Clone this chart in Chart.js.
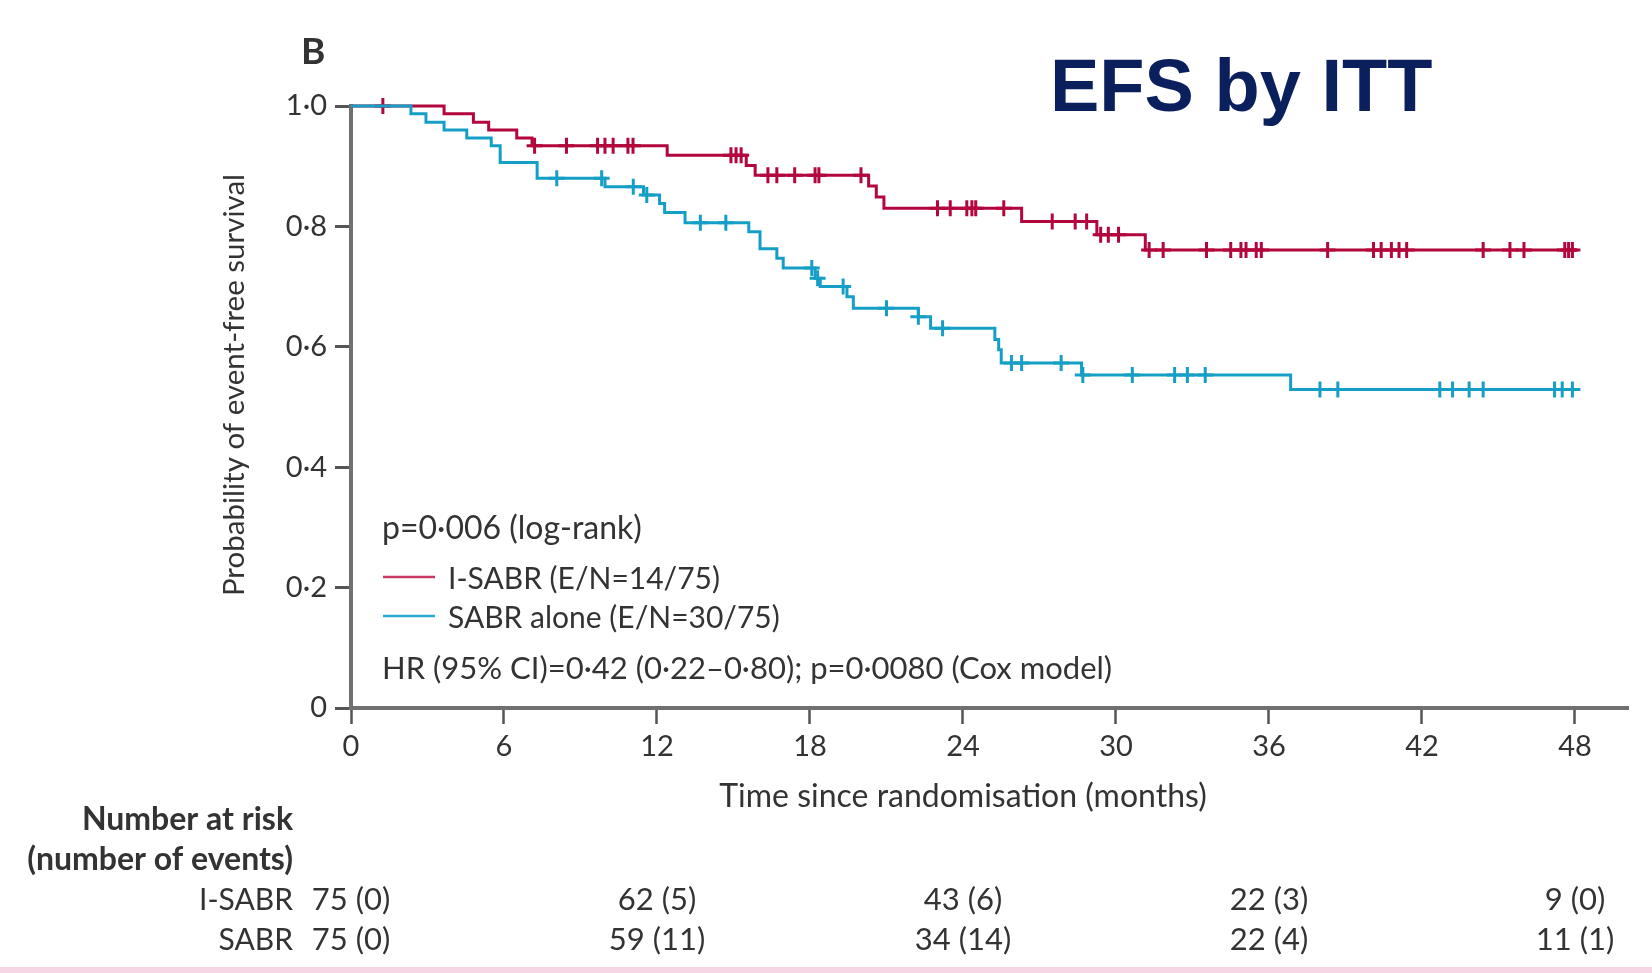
<!DOCTYPE html>
<html>
<head>
<meta charset="utf-8">
<script src="https://cdn.jsdelivr.net/npm/chart.js@4/dist/chart.umd.min.js"></script>
<style>
  html, body { margin: 0; padding: 0; background: #ffffff; }
  canvas { display: block; }
</style>
</head>
<body>
<canvas id="km" width="1652" height="973"></canvas>
<script>
// Kaplan-Meier event-free survival, I-SABR vs SABR alone (months)
const isabrTimes = [0, 3.65, 4.8, 5.4, 6.5, 7.1, 12.4, 15.5, 15.85, 20.3, 20.6, 20.9, 26.3, 29.25, 31.15];
const isabrSurv  = [1.0, 0.987, 0.973, 0.960, 0.947, 0.934, 0.918, 0.901, 0.885, 0.867, 0.849, 0.830, 0.808, 0.786, 0.761];
const isabrCensor = [1.25, 7.2, 8.45, 9.67, 9.96, 10.28, 10.86, 11.06, 14.9, 15.1, 15.3, 16.35, 16.7, 17.4,
  18.2, 18.35, 20.0, 23.0, 23.5, 24.15, 24.35, 24.5, 25.6, 27.5, 28.4, 28.85, 29.4, 29.7, 30.1, 31.3, 31.85,
  33.55, 34.5, 34.9, 35.1, 35.5, 35.7, 38.3, 40.1, 40.4, 40.8, 41.1, 41.4, 44.4, 45.45, 46.0, 47.6, 47.75, 47.9];

const sabrTimes = [0, 2.35, 2.94, 3.65, 4.54, 5.5, 5.85, 7.3, 9.96, 11.47, 12.1, 12.3, 13.1, 15.6, 16.04, 16.7,
  16.95, 18.2, 18.4, 19.45, 19.7, 22.25, 22.73, 25.25, 25.4, 25.5, 28.65, 36.85];
const sabrSurv  = [1.0, 0.987, 0.973, 0.960, 0.947, 0.934, 0.906, 0.880, 0.866, 0.852, 0.838, 0.823, 0.806, 0.791,
  0.763, 0.747, 0.731, 0.714, 0.700, 0.683, 0.664, 0.650, 0.631, 0.612, 0.595, 0.573, 0.553, 0.529];
const sabrCensor = [8.07, 9.83, 11.07, 11.6, 13.7, 14.7, 18.07, 18.3, 19.3, 21.0, 22.25, 23.2, 25.9, 26.3, 27.85,
  28.7, 30.64, 32.3, 32.8, 33.5, 38.0, 38.7, 42.7, 43.2, 43.85, 44.4, 47.2, 47.5, 47.9];

const followUpEnd = 48.1;

const xTicks = [0, 6, 12, 18, 24, 30, 36, 42, 48];
const yTicks = [0, 0.2, 0.4, 0.6, 0.8, 1.0];
const yTickLabels = ['0', '0·2', '0·4', '0·6', '0·8', '1·0'];

const riskTimes = [0, 12, 24, 36, 48];
const riskIsabr = ['75 (0)', '62 (5)', '43 (6)', '22 (3)', '9 (0)'];
const riskSabr  = ['75 (0)', '59 (11)', '34 (14)', '22 (4)', '11 (1)'];

const RED = '#b3063d';
const CYAN = '#169fc6';
const AXIS = '#707070';
const TEXT = '#333333';
const FONT = 'Lato, "Open Sans", sans-serif';

function stepPoints(times, surv, end) {
  const pts = times.map((t, i) => ({ x: t, y: surv[i] }));
  pts.push({ x: end, y: surv[surv.length - 1] });
  return pts;
}
function survivalAt(times, surv, t) {
  let s = surv[0];
  for (let i = 0; i < times.length; i++) if (times[i] <= t) s = surv[i];
  return s;
}
function censorPoints(censor, times, surv) {
  return censor.map(t => ({ x: t, y: survivalAt(times, surv, t) }));
}

const annotations = {
  id: 'annotations',
  afterDraw(chart) {
    const ctx = chart.ctx;
    const xs = chart.scales.x;
    ctx.save();

    // panel letter
    ctx.fillStyle = TEXT;
    ctx.textAlign = 'left';
    ctx.textBaseline = 'middle';
    ctx.font = 'bold 37px ' + FONT;
    ctx.fillText('B', 301, 52);

    // headline
    ctx.fillStyle = '#0b1f5c';
    ctx.textBaseline = 'alphabetic';
    ctx.font = 'bold 74px "Liberation Sans", Arial, sans-serif';
    ctx.fillText('EFS by ITT', 1050, 111);

    // axis titles
    ctx.fillStyle = TEXT;
    ctx.textBaseline = 'middle';
    ctx.textAlign = 'center';
    ctx.font = '32px ' + FONT;
    ctx.fillText('Time since randomisation (months)', 963, 797);
    ctx.save();
    ctx.translate(234, 385);
    ctx.rotate(-Math.PI / 2);
    ctx.font = '29.5px ' + FONT;
    ctx.fillText('Probability of event-free survival', 0, 0);
    ctx.restore();

    // legend block
    ctx.textAlign = 'left';
    ctx.font = '32px ' + FONT;
    ctx.fillText('p=0·006 (log-rank)', 382, 529);
    ctx.font = '30px ' + FONT;
    ctx.fillText('I-SABR (E/N=14/75)', 448, 579);
    ctx.fillText('SABR alone (E/N=30/75)', 448, 618);
    ctx.font = '31px ' + FONT;
    ctx.fillText('HR (95% CI)=0·42 (0·22–0·80); p=0·0080 (Cox model)', 382, 669);
    ctx.lineWidth = 2.5;
    ctx.strokeStyle = '#c73a66';
    ctx.beginPath(); ctx.moveTo(383, 577); ctx.lineTo(435, 577); ctx.stroke();
    ctx.strokeStyle = '#2aaad0';
    ctx.beginPath(); ctx.moveTo(383, 616); ctx.lineTo(435, 616); ctx.stroke();

    // number at risk table
    ctx.textAlign = 'right';
    ctx.font = 'bold 32px ' + FONT;
    ctx.fillText('Number at risk', 293, 820);
    ctx.fillText('(number of events)', 293, 860);
    ctx.font = '30px ' + FONT;
    ctx.fillText('I-SABR', 293, 900);
    ctx.fillText('SABR', 293, 940);
    ctx.textAlign = 'center';
    ctx.font = '31px ' + FONT;
    riskTimes.forEach((t, i) => {
      const px = xs.getPixelForValue(t);
      ctx.fillText(riskIsabr[i], px, 900);
      ctx.fillText(riskSabr[i], px, 940);
    });

    // bottom rule
    ctx.fillStyle = '#f6d6e4';
    ctx.fillRect(0, 967, 1652, 6);
    ctx.restore();
  }
};

new Chart(document.getElementById('km'), {
  type: 'line',
  data: {
    datasets: [
      {
        label: 'SABR alone',
        data: stepPoints(sabrTimes, sabrSurv, followUpEnd),
        stepped: 'before',
        borderColor: CYAN,
        borderWidth: 3,
        pointRadius: 0,
        fill: false,
        clip: false,
        order: 1
      },
      {
        label: 'SABR alone censored',
        type: 'scatter',
        data: censorPoints(sabrCensor, sabrTimes, sabrSurv),
        showLine: false,
        pointStyle: 'cross',
        pointRadius: 8,
        pointBorderWidth: 3,
        borderColor: CYAN,
        backgroundColor: CYAN,
        clip: false,
        order: 1
      },
      {
        label: 'I-SABR',
        data: stepPoints(isabrTimes, isabrSurv, followUpEnd),
        stepped: 'before',
        borderColor: RED,
        borderWidth: 3,
        pointRadius: 0,
        fill: false,
        clip: false,
        order: 2
      },
      {
        label: 'I-SABR censored',
        type: 'scatter',
        data: censorPoints(isabrCensor, isabrTimes, isabrSurv),
        showLine: false,
        pointStyle: 'cross',
        pointRadius: 8,
        pointBorderWidth: 3,
        borderColor: RED,
        backgroundColor: RED,
        clip: false,
        order: 2
      }
    ]
  },
  options: {
    responsive: false,
    animation: false,
    devicePixelRatio: 1,
    layout: { padding: { left: 0, top: 106, right: 24, bottom: 0 } },
    plugins: { legend: { display: false }, tooltip: { enabled: false } },
    scales: {
      x: {
        type: 'linear',
        min: 0,
        max: 50.08,
        afterBuildTicks: s => { s.ticks = xTicks.map(v => ({ value: v })); },
        afterFit: s => { s.height = 265; },
        border: { display: true, color: AXIS, width: 4 },
        grid: { drawOnChartArea: false, drawTicks: true, tickLength: 16, tickColor: '#555', tickWidth: 2.5 },
        ticks: { color: TEXT, font: { family: FONT, size: 29 }, padding: 5, maxRotation: 0 }
      },
      y: {
        type: 'linear',
        min: 0,
        max: 1,
        afterBuildTicks: s => { s.ticks = yTicks.map(v => ({ value: v })); },
        afterFit: s => { s.width = 351; },
        border: { display: true, color: AXIS, width: 4 },
        grid: { drawOnChartArea: false, drawTicks: true, tickLength: 16, tickColor: '#555', tickWidth: 3 },
        ticks: {
          color: TEXT,
          font: { family: FONT, size: 29 },
          padding: 8,
          callback: (v) => yTickLabels[yTicks.findIndex(t => Math.abs(t - v) < 1e-9)]
        }
      }
    }
  },
  plugins: [annotations]
});
</script>
</body>
</html>
